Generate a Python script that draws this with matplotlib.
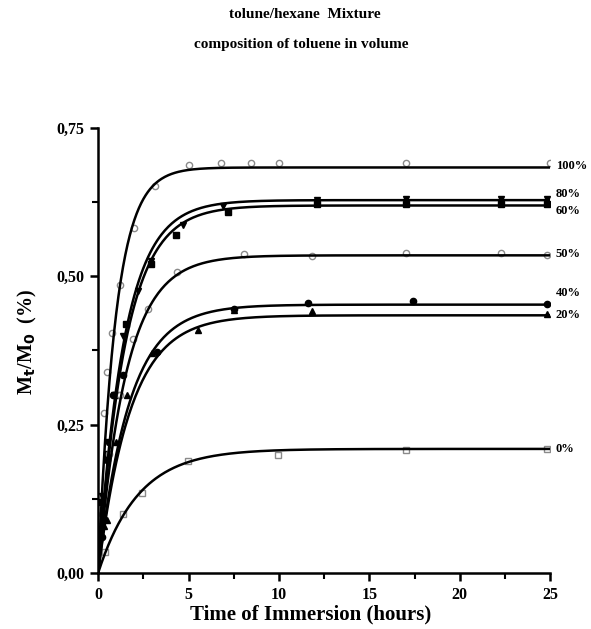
import numpy as np
import matplotlib.pyplot as plt
from matplotlib.ticker import MultipleLocator, FuncFormatter

# fitted first-order curves: plateau and rate for each toluene fraction
labels = ["100%", "80%", "60%", "50%", "40%", "20%", "0%"]
plateau = [0.683, 0.628, 0.619, 0.535, 0.452, 0.434, 0.209]
rate = [1.02, 0.68, 0.65, 0.64, 0.58, 0.56, 0.45]
label_y = [0.685, 0.638, 0.610, 0.537, 0.472, 0.434, 0.209]

# measured points
t_100 = [0.1, 0.3, 0.5, 0.77, 1.2, 2.0, 3.15, 5.0, 6.8, 8.45, 10.0, 17.0, 25.0]
m_100 = [0.08, 0.27, 0.338, 0.405, 0.485, 0.581, 0.652, 0.688, 0.69, 0.69, 0.69, 0.69, 0.69]
t_80 = [0.2, 0.5, 0.9, 1.4, 2.2, 2.9, 4.7, 6.9, 12.1, 17.0, 22.3, 24.8]
m_80 = [0.13, 0.22, 0.30, 0.40, 0.475, 0.525, 0.586, 0.618, 0.629, 0.63, 0.63, 0.63]
t_60 = [0.2, 0.5, 1.0, 1.55, 2.9, 4.3, 7.2, 12.1, 17.0, 22.3, 24.8]
m_60 = [0.12, 0.20, 0.30, 0.42, 0.52, 0.569, 0.608, 0.622, 0.622, 0.622, 0.622]
t_50 = [0.2, 0.6, 1.2, 1.94, 2.77, 4.37, 8.07, 11.8, 17.0, 22.3, 24.8]
m_50 = [0.10, 0.20, 0.30, 0.394, 0.444, 0.507, 0.537, 0.534, 0.539, 0.539, 0.535]
t_40 = [0.2, 0.5, 0.8, 1.4, 3.25, 7.5, 11.6, 17.4, 24.8]
m_40 = [0.06, 0.19, 0.30, 0.334, 0.372, 0.444, 0.455, 0.458, 0.453]
t_20 = [0.3, 0.5, 1.0, 1.6, 3.0, 5.5, 7.5, 11.8, 24.8]
m_20 = [0.08, 0.09, 0.22, 0.30, 0.37, 0.409, 0.443, 0.441, 0.437]
t_0 = [0.4, 1.4, 2.4, 4.98, 9.95, 17.0, 24.8]
m_0 = [0.036, 0.10, 0.135, 0.188, 0.198, 0.208, 0.209]

plt.rcParams['font.family'] = 'Liberation Serif'
plt.rcParams['font.weight'] = 'bold'

fig = plt.figure(figsize=(5.91, 6.29), dpi=100)
ax = fig.add_axes([0.166, 0.089, 0.765, 0.708])

gray = '#8a8a8a'
ax.plot(t_100, m_100, 'o', ms=4.5, mfc='white', mec=gray, mew=1.0)
ax.plot(t_80, m_80, 'v', ms=4.5, color='black')
ax.plot(t_60, m_60, 's', ms=4, color='black')
ax.plot(t_50, m_50, 'o', ms=4.5, mfc='white', mec=gray, mew=1.0)
ax.plot(t_40, m_40, 'o', ms=4.5, color='black')
ax.plot(t_20, m_20, '^', ms=4.5, color='black')
ax.plot(t_0, m_0, 's', ms=4, mfc='white', mec=gray, mew=1.0)

tt = np.linspace(0, 25, 400)
for p, k in zip(plateau, rate):
    ax.plot(tt, p * (1 - np.exp(-k * tt)), color='black', lw=1.8)

for lab, y in zip(labels, label_y):
    ax.text(25.3, y, lab, fontsize=9, fontweight='bold', va='center', ha='left')

ax.set_xlim(0, 25)
ax.set_ylim(0, 0.75)
ax.spines['top'].set_visible(False)
ax.spines['right'].set_visible(False)
ax.spines['left'].set_linewidth(1.8)
ax.spines['bottom'].set_linewidth(1.8)
ax.xaxis.set_major_locator(MultipleLocator(5))
ax.xaxis.set_minor_locator(MultipleLocator(2.5))
ax.yaxis.set_major_locator(MultipleLocator(0.25))
ax.yaxis.set_minor_locator(MultipleLocator(0.125))
ax.yaxis.set_major_formatter(FuncFormatter(lambda v, _: f"{v:.2f}".replace('.', ',')))
ax.tick_params(which='major', direction='out', length=6, width=1.8, labelsize=11.5, pad=4)
ax.tick_params(which='minor', direction='out', length=4, width=1.5)
for lb in ax.get_xticklabels() + ax.get_yticklabels():
    lb.set_fontweight('bold')

ax.set_xlabel('Time of Immersion (hours)', fontsize=15, fontweight='bold')
ax.xaxis.set_label_coords(0.47, -0.07)
ax.set_ylabel(r'M$_\mathbf{t}$/M$_\mathbf{0}$  (%)', fontsize=14.5, fontweight='bold')
ax.yaxis.set_label_coords(-0.13, 0.52)

fig.text(0.515, 0.977, 'tolune/hexane  Mixture', ha='center', va='center', fontsize=11, fontweight='bold')
fig.text(0.51, 0.93, 'composition of toluene in volume', ha='center', va='center', fontsize=11, fontweight='bold')

fig.savefig('out.png', dpi=100)
